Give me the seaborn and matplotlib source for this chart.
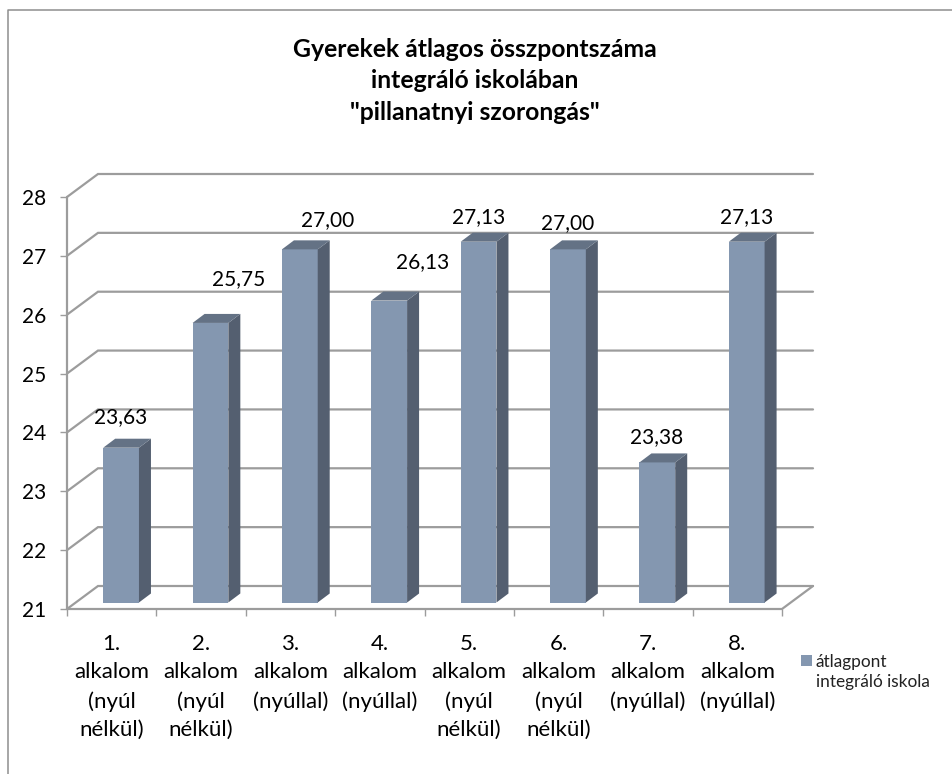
import matplotlib
matplotlib.use('Agg')
import matplotlib.pyplot as plt
import pandas as pd
import seaborn as sns
from matplotlib.lines import Line2D
from matplotlib.patches import Polygon, Rectangle

# adatok
alkalmak = ['1.\nalkalom\n(nyúl\nnélkül)', '2.\nalkalom\n(nyúl\nnélkül)', '3.\nalkalom\n(nyúllal)',
            '4.\nalkalom\n(nyúllal)', '5.\nalkalom\n(nyúl\nnélkül)', '6.\nalkalom\n(nyúl\nnélkül)',
            '7.\nalkalom\n(nyúllal)', '8.\nalkalom\n(nyúllal)']
atlagpont = [23.63, 25.75, 27.00, 26.13, 27.13, 27.00, 23.38, 27.13]
y_ticks = [21, 22, 23, 24, 25, 26, 27, 28]
cim = 'Gyerekek átlagos összpontszáma\nintegráló iskolában\n"pillanatnyi szorongás"'
sorozat = 'átlagpont\nintegráló iskola'

W, H = 952, 774
dataset = pd.DataFrame({'alkalom': alkalmak, 'pont': atlagpont})

sns.set_theme(style='white')
plt.rcParams['font.family'] = ['Lato', 'DejaVu Sans']

fig = plt.figure(figsize=(W / 100, H / 100), dpi=100)
ax = fig.add_axes([67 / W, 1 - 609 / H, 715 / W, 412 / H])

sns.barplot(data=dataset, x='alkalom', y='pont', color='#8497b0', saturation=1, width=0.4, ax=ax, zorder=3)
ax.set_xlim(-0.5, 7.5)
ax.set_ylim(21, 28)

# pixel -> adat
px = 8 / 715
py = 7 / 412
rac_x, rac_y = 31 * px, 23 * py      # a fal melysege
tol_x, tol_y = 9.4 * px, 6.5 * py    # oszlop eltolasa
mely_x, mely_y = 12 * px, 9 * py     # oszlop melysege

# racs
racs = '#9c9c9c'
for t in y_ticks:
    ax.plot([-0.5, -0.5 + rac_x, 7.5 + rac_x], [t, t + rac_y, t + rac_y], color=racs, lw=1.6,
            clip_on=False, zorder=1, solid_joinstyle='miter')
ax.plot([-0.5, -0.5], [21, 28], color=racs, lw=1.6, clip_on=False, zorder=1)
ax.plot([-0.5, 7.5, 7.5 + rac_x], [21, 21, 21 + rac_y], color=racs, lw=1.6, clip_on=False, zorder=1)

# oszlopok 3D hatasa
for bar in ax.patches:
    ertek = bar.get_height()
    bar.set_x(bar.get_x() + tol_x)
    bar.set_y(21 + tol_y)
    bar.set_height(ertek - 21)
    bar.set_linewidth(0)
    x0, x1 = bar.get_x(), bar.get_x() + bar.get_width()
    y0, y1 = bar.get_y(), bar.get_y() + bar.get_height()
    ax.add_patch(Polygon([(x1, y0), (x1 + mely_x, y0 + mely_y), (x1 + mely_x, y1 + mely_y), (x1, y1)],
                         fc='#545f70', lw=0, zorder=3, clip_on=False))
    ax.add_patch(Polygon([(x0, y1), (x0 + mely_x, y1 + mely_y), (x1 + mely_x, y1 + mely_y), (x1, y1)],
                         fc='#647285', lw=0, zorder=3, clip_on=False))

# feliratok az oszlopokon
cimke_el = [(9, 37), (38, 50), (37.5, 36), (43, 45), (9, 31), (9, 33), (9, 32), (9.5, 31)]
for i, v in enumerate(atlagpont):
    ax.annotate(f'{v:.2f}'.replace('.', ','), xy=(i, v), xytext=cimke_el[i], textcoords='offset pixels',
                ha='center', va='center', fontsize=15, color='black', zorder=5)

sns.despine(ax=ax, left=True, bottom=True)
ax.set_xlabel('')
ax.set_ylabel('')
ax.set_yticks(y_ticks)
ax.set_xticks([i - 0.5 for i in range(9)], minor=True)
ax.tick_params(axis='x', which='minor', length=5, width=1, color=racs, bottom=True)
ax.tick_params(axis='x', which='major', length=0, pad=18, labelsize=16, labelcolor='black')
ax.tick_params(axis='y', length=5, width=1, color=racs, left=True, pad=10, labelsize=15, labelcolor='black')
for lab in ax.get_xticklabels():
    lab.set_linespacing(1.52)

fig.text(475 / W, 1 - 81 / H, cim, ha='center', va='center', fontsize=17.8, fontweight='bold',
         color='black', linespacing=1.47)

# keret
fig.add_artist(Line2D([8 / W, 8 / W, 1], [0, 1 - 10 / H, 1 - 10 / H], color='#8e8e8e', lw=1.1))

# jelmagyarazat
fig.add_artist(Rectangle((801 / W, 1 - 666 / H), 11 / W, 11 / H, fc='#8497b0', lw=0, transform=fig.transFigure))
fig.text(816 / W, 1 - 672 / H, sorozat, ha='left', va='center', fontsize=12.4, color='#222222', linespacing=1.38)

plt.savefig('out.png', dpi=100)
